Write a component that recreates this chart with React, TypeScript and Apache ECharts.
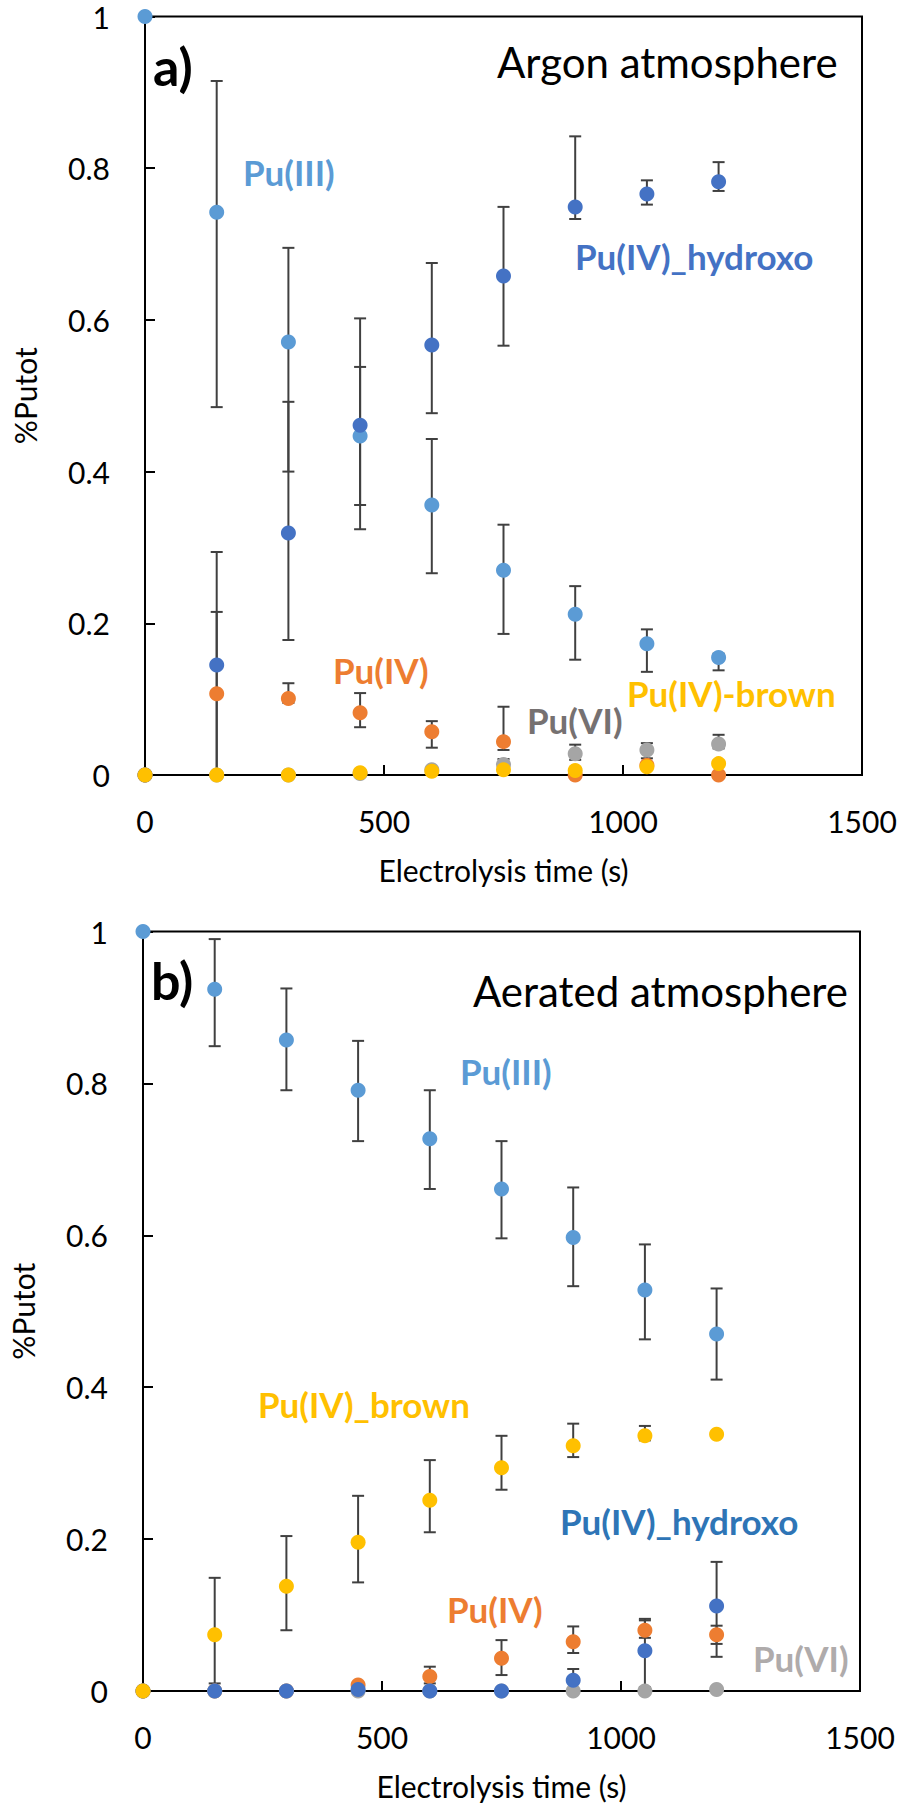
import React, { useEffect, useRef } from "react";
import * as echarts from "echarts";

const TIMES = [0, 150, 300, 450, 600, 750, 900, 1050, 1200];

// Panel a) Argon atmosphere
const A_PU3 = [1, 0.742, 0.571, 0.447, 0.356, 0.27, 0.212, 0.173, 0.155];
const A_HYDROXO = [0, 0.145, 0.319, 0.461, 0.567, 0.658, 0.749, 0.766, 0.782];
const A_PU4 = [0, 0.107, 0.101, 0.082, 0.057, 0.044, 0, 0.013, 0];
const A_PU6 = [0, 0, 0, 0.002, 0.007, 0.014, 0.028, 0.033, 0.041];
const A_BROWN = [0, 0, 0, 0.003, 0.005, 0.007, 0.006, 0.011, 0.015];

const A_PU3_LOW = [null, 0.485, 0.4, 0.356, 0.266, 0.186, 0.152, 0.136, 0.138];
const A_PU3_HIGH = [null, 0.915, 0.695, 0.538, 0.443, 0.33, 0.249, 0.192, 0.16];
const A_HYDROXO_LOW = [null, 0, 0.178, 0.324, 0.477, 0.566, 0.733, 0.752, 0.77];
const A_HYDROXO_HIGH = [null, 0.294, 0.492, 0.602, 0.675, 0.749, 0.842, 0.784, 0.808];
const A_PU4_LOW = [null, 0, 0.095, 0.063, 0.036, 0.033, null, null, null];
const A_PU4_HIGH = [null, 0.215, 0.121, 0.108, 0.071, 0.09, null, null, null];
const A_PU6_LOW = [null, null, null, null, null, 0.01, 0.02, 0.022, 0.035];
const A_PU6_HIGH = [null, null, null, null, null, 0.021, 0.04, 0.042, 0.053];

// Panel b) Aerated atmosphere
const B_PU3 = [1, 0.924, 0.857, 0.791, 0.727, 0.661, 0.597, 0.528, 0.47];
const B_BROWN = [0, 0.074, 0.138, 0.196, 0.251, 0.294, 0.323, 0.336, 0.338];
const B_PU4 = [0, 0, 0, 0.008, 0.019, 0.043, 0.065, 0.08, 0.074];
const B_HYDROXO = [0, 0, 0, 0.002, 0, 0, 0.014, 0.053, 0.112];
const B_PU6 = [0, 0, 0, 0, 0, 0, 0, 0, 0.002];

const B_PU3_LOW = [null, 0.849, 0.791, 0.724, 0.661, 0.596, 0.533, 0.463, 0.41];
const B_PU3_HIGH = [null, 0.99, 0.925, 0.856, 0.791, 0.724, 0.663, 0.588, 0.53];
const B_BROWN_LOW = [null, 0.01, 0.08, 0.143, 0.209, 0.265, 0.308, 0.33, null];
const B_BROWN_HIGH = [null, 0.149, 0.204, 0.257, 0.304, 0.336, 0.352, 0.349, null];
const B_PU4_LOW = [null, null, null, null, 0.01, 0.021, 0.05, 0.07, 0.062];
const B_PU4_HIGH = [null, null, null, null, 0.032, 0.067, 0.085, 0.095, 0.086];
const B_HYDROXO_LOW = [null, null, null, null, null, null, 0, 0.005, 0.045];
const B_HYDROXO_HIGH = [null, null, null, null, null, null, 0.029, 0.093, 0.17];

const C_PU3 = "#5B9BD5";
const C_HYD = "#4472C4";
const C_PU4 = "#ED7D31";
const C_PU6 = "#A5A5A5";
const C_BROWN = "#FFC000";

const FONT = "Lato, 'Open Sans', sans-serif";

function pts(vals: number[]) {
  return TIMES.map((t, i) => [t, vals[i]]);
}

function bars(...pairs: [(number | null)[], (number | null)[]][]) {
  const out: number[][] = [];
  pairs.forEach(([lo, hi]) => {
    TIMES.forEach((t, i) => {
      if (lo[i] !== null && hi[i] !== null) out.push([t, lo[i] as number, hi[i] as number]);
    });
  });
  return out;
}

const renderErr = (params: any, api: any) => {
  const x = api.value(0);
  const p1 = api.coord([x, api.value(1)]);
  const p2 = api.coord([x, api.value(2)]);
  const hw = 6;
  const st = { stroke: "#404040", lineWidth: 2 };
  return {
    type: "group",
    children: [
      { type: "line", shape: { x1: p1[0], y1: p1[1], x2: p2[0], y2: p2[1] }, style: st },
      { type: "line", shape: { x1: p1[0] - hw, y1: p1[1], x2: p1[0] + hw, y2: p1[1] }, style: st },
      { type: "line", shape: { x1: p2[0] - hw, y1: p2[1], x2: p2[0] + hw, y2: p2[1] }, style: st },
    ],
  };
};

function scatter(name: string, idx: number, vals: number[], color: string) {
  return {
    name,
    type: "scatter",
    xAxisIndex: idx,
    yAxisIndex: idx,
    data: pts(vals),
    symbol: "circle",
    symbolSize: 15,
    clip: false,
    itemStyle: { color, opacity: 1 },
    z: 3,
  };
}

function txt(text: string, x: number, y: number, size: number, color: string, bold = true, align = "left") {
  return {
    type: "text",
    x,
    y,
    z: 10,
    style: {
      text,
      font: `${bold ? "bold " : ""}${size}px ${FONT}`,
      fill: color,
      align,
      verticalAlign: "middle",
      textAlign: align,
      textVerticalAlign: "middle",
    },
  };
}

export default function App() {
  const ref = useRef<HTMLDivElement>(null);
  useEffect(() => {
    document.body.style.margin = "0";
    document.body.style.overflow = "hidden";
    if (!ref.current) return;
    const chart = echarts.init(ref.current, null, { renderer: "svg" });
    const xAxisBase = {
      type: "value",
      min: 0,
      max: 1500,
      interval: 500,
      name: "Electrolysis time (s)",
      nameLocation: "middle",
      nameGap: 80,
      nameTextStyle: { fontSize: 30, fontFamily: FONT, color: "#000" },
      axisLine: { show: true, lineStyle: { color: "#000", width: 2 } },
      axisTick: { show: true, inside: true, length: 10, lineStyle: { color: "#000", width: 2 } },
      axisLabel: { fontSize: 30, fontFamily: FONT, color: "#000", margin: 31, formatter: (v: number) => String(v) },
      splitLine: { show: false },
    };
    const yAxisBase = {
      type: "value",
      min: 0,
      max: 1,
      interval: 0.2,
      name: "%Putot",
      nameLocation: "middle",
      nameRotate: 90,
      nameGap: 105,
      nameTextStyle: { fontSize: 30, fontFamily: FONT, color: "#000" },
      axisLine: { show: true, lineStyle: { color: "#000", width: 2 } },
      axisTick: { show: true, inside: true, length: 10, lineStyle: { color: "#000", width: 2 } },
      axisLabel: { fontSize: 30, fontFamily: FONT, color: "#000", margin: 35 },
      splitLine: { show: false },
    };
    const option: any = {
      animation: false,
      backgroundColor: "#fff",
      grid: [
        { left: 145, top: 16.5, width: 717, height: 758.5, show: true, borderColor: "#000", borderWidth: 2, backgroundColor: "transparent" },
        { left: 143, top: 931.5, width: 717, height: 759.5, show: true, borderColor: "#000", borderWidth: 2, backgroundColor: "transparent" },
      ],
      xAxis: [
        { ...xAxisBase, gridIndex: 0 },
        { ...xAxisBase, gridIndex: 1 },
      ],
      yAxis: [
        { ...yAxisBase, gridIndex: 0 },
        { ...yAxisBase, gridIndex: 1 },
      ],
      series: [
        {
          type: "custom",
          name: "err-a",
          xAxisIndex: 0,
          yAxisIndex: 0,
          renderItem: renderErr,
          encode: { x: 0, y: [1, 2] },
          data: bars(
            [A_PU3_LOW, A_PU3_HIGH],
            [A_HYDROXO_LOW, A_HYDROXO_HIGH],
            [A_PU4_LOW, A_PU4_HIGH],
            [A_PU6_LOW, A_PU6_HIGH]
          ),
          clip: false,
          z: 2,
          silent: true,
        },
        {
          type: "custom",
          name: "err-b",
          xAxisIndex: 1,
          yAxisIndex: 1,
          renderItem: renderErr,
          encode: { x: 0, y: [1, 2] },
          data: bars(
            [B_PU3_LOW, B_PU3_HIGH],
            [B_BROWN_LOW, B_BROWN_HIGH],
            [B_PU4_LOW, B_PU4_HIGH],
            [B_HYDROXO_LOW, B_HYDROXO_HIGH]
          ),
          clip: false,
          z: 2,
          silent: true,
        },
        scatter("Pu(III)", 0, A_PU3, C_PU3),
        scatter("Pu(IV)", 0, A_PU4, C_PU4),
        scatter("Pu(VI)", 0, A_PU6, C_PU6),
        scatter("Pu(IV)_hydroxo", 0, A_HYDROXO, C_HYD),
        scatter("Pu(IV)-brown", 0, A_BROWN, C_BROWN),
        scatter("Pu(III) b", 1, B_PU3, C_PU3),
        scatter("Pu(IV) b", 1, B_PU4, C_PU4),
        scatter("Pu(VI) b", 1, B_PU6, C_PU6),
        scatter("Pu(IV)_hydroxo b", 1, B_HYDROXO, C_HYD),
        scatter("Pu(IV)_brown b", 1, B_BROWN, C_BROWN),
      ],
      graphic: [
        txt("a)", 153, 66, 52, "#000"),
        txt("Argon atmosphere", 497, 62, 42, "#000", false),
        txt("Pu(III)", 243, 172, 35, C_PU3),
        txt("Pu(IV)_hydroxo", 575, 256, 35, C_HYD),
        txt("Pu(IV)", 333, 670, 35, C_PU4),
        txt("Pu(VI)", 527, 720, 35, "#767171"),
        txt("Pu(IV)-brown", 627, 693, 35, C_BROWN),
        txt("b)", 151, 980, 52, "#000"),
        txt("Aerated atmosphere", 473, 991, 42, "#000", false),
        txt("Pu(III)", 460, 1071, 35, C_PU3),
        txt("Pu(IV)_brown", 258, 1404, 35, C_BROWN),
        txt("Pu(IV)_hydroxo", 560, 1521, 35, "#2E75B6"),
        txt("Pu(IV)", 447, 1609, 35, C_PU4),
        txt("Pu(VI)", 753, 1658, 35, "#AFABAB"),
      ],
    };
    chart.setOption(option);
    return () => chart.dispose();
  }, []);
  return <div ref={ref} style={{ width: 906, height: 1818 }} />;
}
